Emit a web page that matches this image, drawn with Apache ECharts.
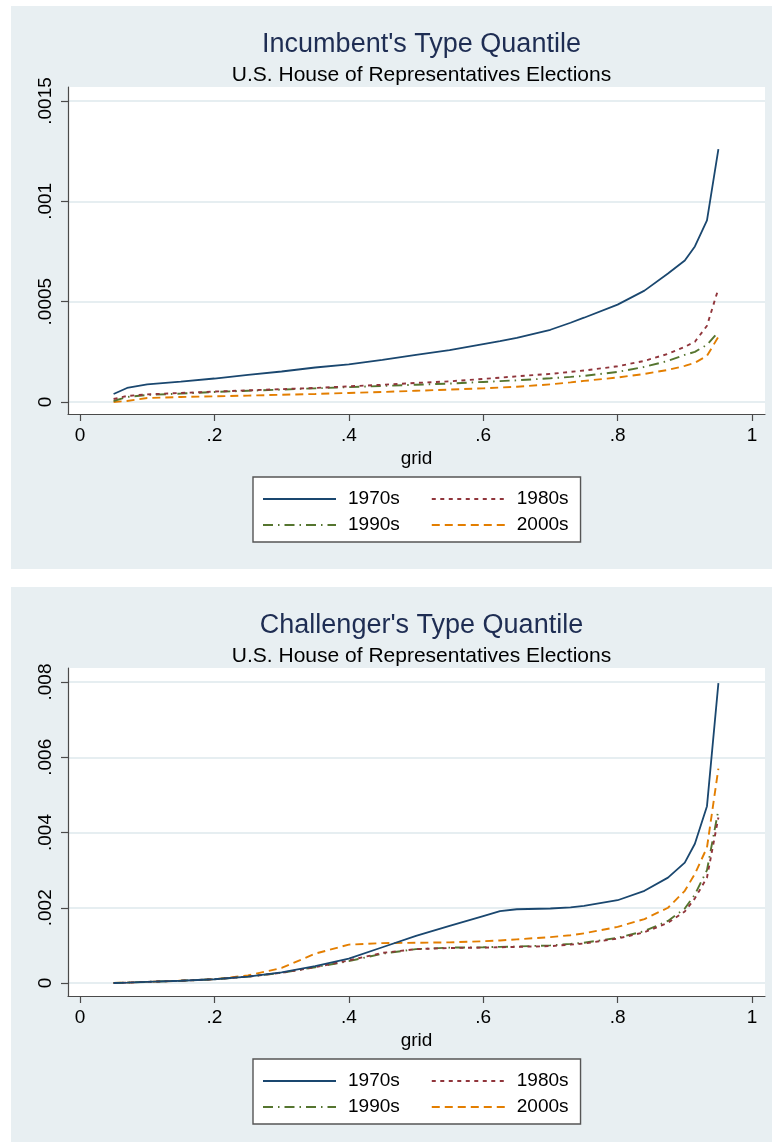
<!DOCTYPE html>
<html>
<head>
<meta charset="utf-8">
<script src="https://cdn.jsdelivr.net/npm/echarts@6/dist/echarts.min.js"></script>
<style>
html,body{margin:0;padding:0;background:#fff;}
#chart{width:772px;height:1142px;}
</style>
</head>
<body>
<div id="chart"></div>
<script>
// ---- data ----
const gridX = [0.05, 0.07, 0.1, 0.15, 0.2, 0.25, 0.3, 0.35, 0.4, 0.45, 0.5, 0.55, 0.6, 0.625, 0.65, 0.7, 0.73, 0.75, 0.8, 0.84, 0.875, 0.9, 0.915, 0.933, 0.95];
const seriesNames = ['1970s', '1980s', '1990s', '2000s'];

// Incumbent's type quantile
const inc1970s = [0.000040, 0.000070, 0.000088, 0.000102, 0.000117, 0.000135, 0.000152, 0.000172, 0.000188, 0.000210, 0.000235, 0.000258, 0.000288, 0.000303, 0.000320, 0.000360, 0.000395, 0.000420, 0.000485, 0.000555, 0.000640, 0.000705, 0.000775, 0.000905, 0.001260];
const inc1980s = [0.000015, 0.000030, 0.000038, 0.000045, 0.000052, 0.000058, 0.000064, 0.000070, 0.000078, 0.000086, 0.000095, 0.000103, 0.000115, 0.000121, 0.000128, 0.000140, 0.000150, 0.000157, 0.000178, 0.000205, 0.000240, 0.000275, 0.000300, 0.000380, 0.000565];
const inc1990s = [0.000005, 0.000025, 0.000035, 0.000042, 0.000050, 0.000056, 0.000062, 0.000068, 0.000074, 0.000080, 0.000086, 0.000092, 0.000100, 0.000104, 0.000108, 0.000118, 0.000125, 0.000130, 0.000150, 0.000175, 0.000205, 0.000235, 0.000250, 0.000285, 0.000350];
const inc2000s = [0.000000, 0.000005, 0.000020, 0.000025, 0.000028, 0.000032, 0.000036, 0.000040, 0.000045, 0.000050, 0.000056, 0.000062, 0.000068, 0.000072, 0.000076, 0.000088, 0.000098, 0.000105, 0.000122, 0.000140, 0.000160, 0.000180, 0.000195, 0.000230, 0.000325];

// Challenger's type quantile
const cha1970s = [0.00000, 0.00001, 0.00003, 0.00006, 0.00010, 0.00017, 0.00028, 0.00045, 0.00065, 0.00095, 0.00125, 0.00152, 0.00178, 0.00191, 0.00196, 0.00198, 0.00201, 0.00205, 0.00220, 0.00245, 0.00280, 0.00320, 0.00370, 0.00470, 0.00797];
const cha1980s = [0.00000, 0.00001, 0.00003, 0.00006, 0.00010, 0.00017, 0.00027, 0.00042, 0.00060, 0.00080, 0.00090, 0.00093, 0.00094, 0.00095, 0.00096, 0.00098, 0.00102, 0.00105, 0.00118, 0.00135, 0.00160, 0.00190, 0.00225, 0.00280, 0.00440];
const cha1990s = [0.00000, 0.00001, 0.00003, 0.00006, 0.00010, 0.00017, 0.00027, 0.00042, 0.00058, 0.00078, 0.00090, 0.00094, 0.00095, 0.00096, 0.00097, 0.00100, 0.00104, 0.00107, 0.00120, 0.00138, 0.00165, 0.00198, 0.00235, 0.00300, 0.00460];
const cha2000s = [0.00000, 0.00001, 0.00003, 0.00006, 0.00010, 0.00020, 0.00040, 0.00078, 0.00102, 0.00106, 0.00107, 0.00108, 0.00111, 0.00113, 0.00116, 0.00122, 0.00127, 0.00132, 0.00149, 0.00170, 0.00200, 0.00245, 0.00290, 0.00360, 0.00570];

// ticks
const xTicks = [0, 0.2, 0.4, 0.6, 0.8, 1];
const xTickLabels = ['0', '.2', '.4', '.6', '.8', '1'];
const yTicksInc = [0, 0.0005, 0.001, 0.0015];
const yTickLabelsInc = ['0', '.0005', '.001', '.0015'];
const yTicksCha = [0, 0.002, 0.004, 0.006, 0.008];
const yTickLabelsCha = ['0', '.002', '.004', '.006', '.008'];

const titles = ["Incumbent's Type Quantile", "Challenger's Type Quantile"];
const subtitle = 'U.S. House of Representatives Elections';
const xAxisName = 'grid';

// ---- styling ----
const FONT = "'Liberation Sans', Arial, Helvetica, sans-serif";
const colors = ['#1a476f', '#90353b', '#55752f', '#e37e00'];
const dashTypes = ['solid', [4, 4.5], [10, 5, 1.5, 5], [8, 5]];
const widths = [1.8, 1.9, 1.9, 1.9];
const BG = '#e8eff2';
const SPLIT = '#e6eef1';
const AXIS = '#4a4a4a';

function labelFor(ticks, labels) {
  return function (v) {
    for (let i = 0; i < ticks.length; i++) {
      if (Math.abs(v - ticks[i]) < 1e-9) return labels[i];
    }
    return '';
  };
}

const OFF = 581; // vertical offset of the second panel

function xAxisFor(gi) {
  return {
    type: 'value', gridIndex: gi,
    min: -0.017857, max: 1.019345,
    name: xAxisName, nameLocation: 'middle', nameGap: 35,
    nameTextStyle: { fontFamily: FONT, fontSize: 19, color: '#000' },
    axisLine: { show: true, onZero: false, lineStyle: { color: AXIS, width: 1.2 } },
    axisTick: { show: true, length: 7, lineStyle: { color: AXIS, width: 1.2 }, customValues: xTicks },
    axisLabel: { show: true, margin: 12, fontFamily: FONT, fontSize: 19, color: '#000',
      customValues: xTicks, formatter: labelFor(xTicks, xTickLabels) },
    splitLine: { show: false }
  };
}
function yAxisFor(gi, min, max, ticks, labels) {
  return {
    type: 'value', gridIndex: gi, min: min, max: max,
    axisLine: { show: true, onZero: false, lineStyle: { color: AXIS, width: 1.2 } },
    axisTick: { show: true, length: 7, lineStyle: { color: AXIS, width: 1.2 }, customValues: ticks },
    axisLabel: { show: true, rotate: 90, margin: 13, fontFamily: FONT, fontSize: 19, color: '#000',
      customValues: ticks, formatter: labelFor(ticks, labels) },
    splitLine: { show: true, lineStyle: { color: SPLIT, width: 2 } }
  };
}

const incData = [inc1970s, inc1980s, inc1990s, inc2000s];
const chaData = [cha1970s, cha1980s, cha1990s, cha2000s];
const series = [];
[incData, chaData].forEach(function (set, gi) {
  set.forEach(function (vals, si) {
    series.push({
      type: 'line', name: seriesNames[si],
      xAxisIndex: gi, yAxisIndex: gi,
      data: gridX.map(function (x, i) { return [x, vals[i]]; }),
      symbol: 'none', smooth: false, silent: true,
      lineStyle: { color: colors[si], width: widths[si], type: dashTypes[si] },
      itemStyle: { color: colors[si] },
      z: 10 - si
    });
  });
});

function legendsFor(top) {
  const common = {
    orient: 'horizontal', left: 253, itemWidth: 73, itemHeight: 14, itemGap: 31,
    selectedMode: false,
    itemStyle: { opacity: 0, borderWidth: 0 },
    textStyle: { fontFamily: FONT, fontSize: 19, color: '#000', lineHeight: 20, padding: [0, 0, 0, 7] }
  };
  return [
    Object.assign({}, common, {
      top: top, data: ['1970s', '1980s'], padding: [12, 12, 33, 9],
      backgroundColor: '#fff', borderColor: '#555', borderWidth: 1.4
    }),
    Object.assign({}, common, {
      top: top + 38, data: ['1990s', '2000s'], padding: [0, 12, 0, 9]
    })
  ];
}

const option = {
  backgroundColor: '#fff',
  animation: false,
  graphic: {
    elements: [
      { type: 'rect', z: -100, silent: true, shape: { x: 11, y: 6, width: 770, height: 563 }, style: { fill: BG } },
      { type: 'rect', z: -100, silent: true, shape: { x: 11, y: 587, width: 770, height: 560 }, style: { fill: BG } }
    ]
  },
  title: [
    { text: titles[0], left: 416.5, top: 26, textAlign: 'center',
      textStyle: { fontFamily: FONT, fontSize: 27, fontWeight: 'normal', color: '#1e2d53' } },
    { text: subtitle, left: 416.5, top: 60, textAlign: 'center',
      textStyle: { fontFamily: FONT, fontSize: 21, fontWeight: 'normal', color: '#000' } },
    { text: titles[1], left: 416.5, top: 26 + OFF, textAlign: 'center',
      textStyle: { fontFamily: FONT, fontSize: 27, fontWeight: 'normal', color: '#1e2d53' } },
    { text: subtitle, left: 416.5, top: 60 + OFF, textAlign: 'center',
      textStyle: { fontFamily: FONT, fontSize: 21, fontWeight: 'normal', color: '#000' } }
  ],
  legend: legendsFor(477).concat(legendsFor(477 + OFF + 1)),
  grid: [
    { left: 68, top: 87, width: 697, height: 327, show: true, backgroundColor: '#fff', borderWidth: 0 },
    { left: 68, top: 668, width: 697, height: 328, show: true, backgroundColor: '#fff', borderWidth: 0 }
  ],
  xAxis: [xAxisFor(0), xAxisFor(1)],
  yAxis: [
    yAxisFor(0, -0.0000598, 0.0015697, yTicksInc, yTickLabelsInc),
    yAxisFor(1, -0.0003455, 0.0083721, yTicksCha, yTickLabelsCha)
  ],
  series: series
};

const chart = echarts.init(document.getElementById('chart'), null, { renderer: 'canvas' });
chart.setOption(option);
</script>
</body>
</html>
